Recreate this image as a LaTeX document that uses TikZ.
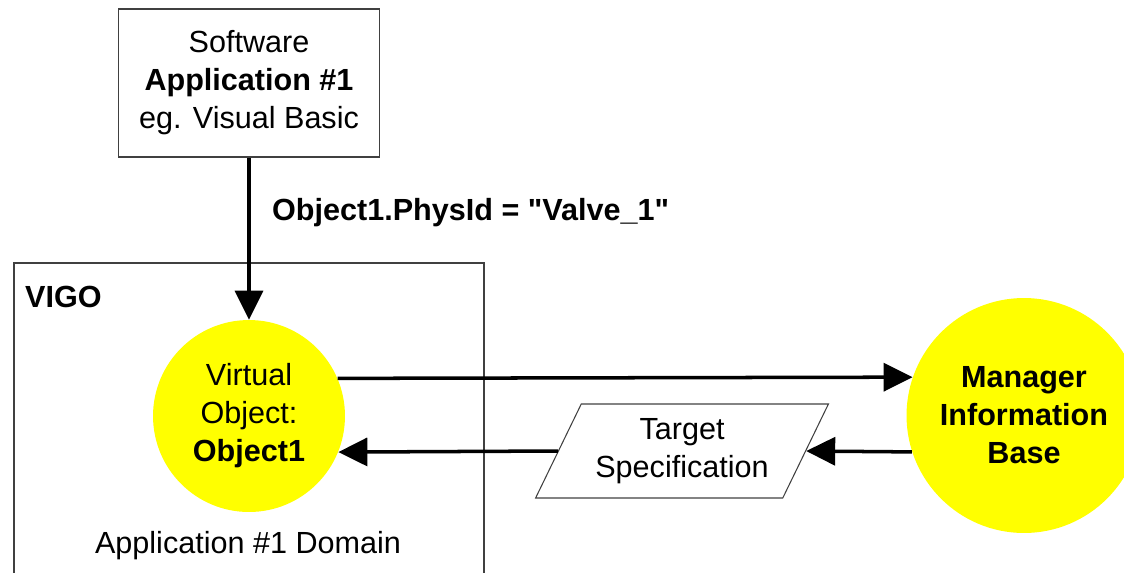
\documentclass[tikz,border=0pt]{standalone}
\usepackage{fontspec}
\setmainfont{Liberation Sans}
\usetikzlibrary{arrows.meta,shapes.geometric}
\definecolor{objyellow}{RGB}{255,255,0}

\begin{document}
\begin{tikzpicture}[x=0.02cm,y=-0.02cm,
    every node/.style={font=\fontsize{17.4}{21.6}\selectfont, align=center},
    box/.style={draw=black!75, line width=0.6pt, inner sep=0pt},
    ball/.style={circle, fill=objyellow, inner sep=0pt},
    arr/.style={line width=2pt, -{Triangle[length=0.58cm,width=0.56cm]}}]
        \clip (0,0) rectangle (1124,572);

        \node[box, minimum width=5.22cm, minimum height=2.96cm] (sw) at (249,83) {Software\\\textbf{Application \#1}\\eg. Visual Basic};
        \node[anchor=west] (call) at (266,213) {\textbf{Object1.PhysId = \textquotedbl Valve\_1\textquotedbl}};

        \draw[box] (14,263) rectangle (484,600);
        \node[anchor=west] (vigo) at (19,297) {\textbf{VIGO}};
        \node[ball, minimum size=3.84cm] (vo) at (249,416) {Virtual\\Object:\\\textbf{Object1}};
        \node (dom) at (248,546) {Application \#1 Domain};

        \node[ball, minimum size=4.7cm, font=\fontsize{17.4}{21.6}\selectfont\bfseries] (mib) at (1024,415.5) {Manager\\Information\\Base};
        \node[box, trapezium, trapezium stretches=true, trapezium left angle=59, trapezium right angle=121,
              minimum width=5.86cm, minimum height=1.88cm] (tgt) at (682,451) {Target\\Specification};

        \draw[arr] (sw) -- (vo);
        \draw[arr] (vo.23) -- (mib.161.4);
        \draw[arr] (mib.198) -- (tgt.right side);
        \draw[arr] (tgt.left side) -- (vo.338);

    \end{tikzpicture}
\end{document}
